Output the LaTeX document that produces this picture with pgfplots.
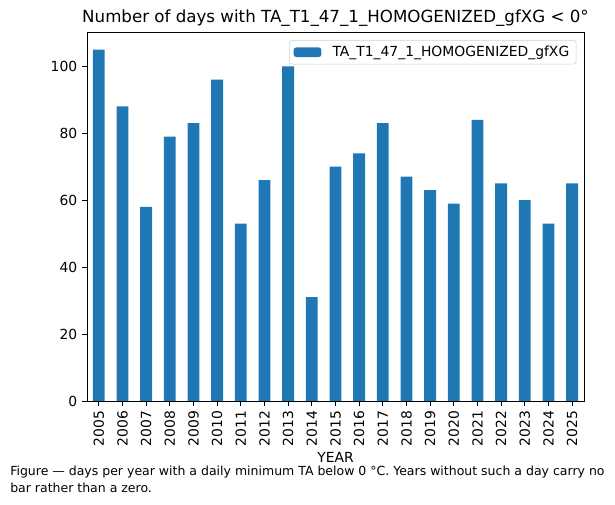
\documentclass[border=0pt]{standalone}
\usepackage{pgfplots}
\pgfplotsset{compat=1.18}
\usepackage{fontspec}
\setmainfont{DejaVu Sans}
\definecolor{mplblue}{HTML}{1F77B4}
\begin{document}
\begin{tikzpicture}
\useasboundingbox (0,0) rectangle (442.8pt,363.6pt);
\begin{axis}[
  at={(62.64pt,74.88pt)}, anchor=south west,
  scale only axis, width=357.8pt, height=265.7pt,
  xmin=-0.5, xmax=20.5, ymin=0, ymax=110.25,
  xtick={0,...,20},
  xticklabels={2005,2006,2007,2008,2009,2010,2011,2012,2013,2014,2015,2016,2017,2018,2019,2020,2021,2022,2023,2024,2025},
  xticklabel style={rotate=90, anchor=east},
  ytick={0,20,40,60,80,100},
  tick align=outside, major tick length=3.5pt,
  tick style={black, line width=0.6pt},
  axis line style={line width=0.6pt},
  xtick pos=bottom, ytick pos=left,
  /pgf/number format/assume math mode=true,
  ticklabel style={font=\fontsize{10}{12}\selectfont},
  xlabel={YEAR}, xlabel style={font=\fontsize{10}{12}\selectfont, yshift=2pt},
  title={Number of days with TA\_T1\_47\_1\_HOMOGENIZED\_gfXG < 0°},
  title style={font=\fontsize{12}{14}\selectfont, yshift=-5.5pt},
  legend style={at={(0.985,0.978)}, anchor=north east, draw=black!18, rounded corners=2pt,
    font=\fontsize{10}{12}\selectfont, inner xsep=3pt, inner ysep=2pt,
    /tikz/every odd column/.append style={column sep=6pt}},
  legend image code/.code={\fill[mplblue] (0pt,-3.5pt) rectangle (20pt,3.5pt);},
  clip=false,
]
\addplot[ybar, bar width=0.5, fill=mplblue, draw=none] coordinates {
(0,105) (1,88) (2,58) (3,79) (4,83) (5,96) (6,53) (7,66) (8,100) (9,31)
(10,70) (11,74) (12,83) (13,67) (14,63) (15,59) (16,84) (17,65) (18,60) (19,53) (20,65)
};
\addlegendentry{TA\_T1\_47\_1\_HOMOGENIZED\_gfXG}
\end{axis}
\node[anchor=north west, align=left, inner sep=0pt, font=\fontsize{9}{12.2}\selectfont] at (7.2pt,28pt)
{Figure — days per year with a daily minimum TA below 0 °C. Years without such a day carry no\\bar rather than a zero.};
\end{tikzpicture}
\end{document}
